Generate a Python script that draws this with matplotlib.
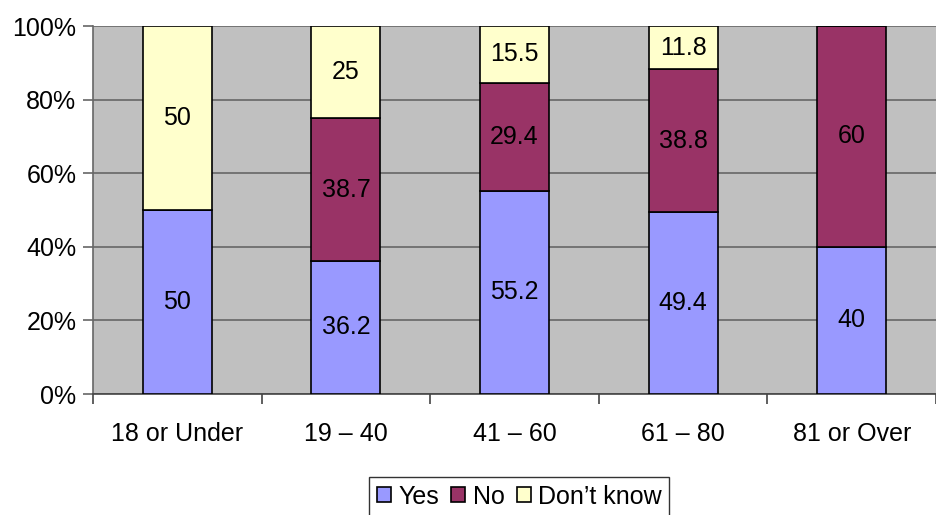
import matplotlib.pyplot as plt
import numpy as np

plt.rcParams['font.family'] = ['Liberation Sans', 'DejaVu Sans']

categories = ['18 or Under', '19 \u2013 40', '41 \u2013 60', '61 \u2013 80', '81 or Over']
yes = [50, 36.2, 55.2, 49.4, 40]
no = [0, 38.7, 29.4, 38.8, 60]
dont_know = [50, 25, 15.5, 11.8, 0]
series_names = ['Yes', 'No', 'Don\u2019t know']
colors = ['#9999FF', '#993366', '#FFFFCC']

fig = plt.figure(figsize=(9.36, 5.15), dpi=100)
ax = fig.add_axes([93 / 936, 1 - 394 / 515, 1 - 93 / 936, (394 - 26) / 515])
ax.set_facecolor('#C0C0C0')

x = np.arange(len(categories))
bottom = np.zeros(len(categories))
handles = []
for vals, name, col in zip([yes, no, dont_know], series_names, colors):
    vals = np.array(vals)
    bars = ax.bar(x, vals, 0.41, bottom=bottom, color=col, edgecolor='black',
                  linewidth=1.2, label=name, zorder=3)
    handles.append(bars)
    for xi, v, b in zip(x, vals, bottom):
        if v > 0:
            ax.text(xi, b + v / 2, f'{v:g}', ha='center', va='center',
                    fontsize=18, zorder=4)
    bottom += vals

ax.set_xlim(-0.5, len(categories) - 0.5)
ax.set_ylim(0, 100)
ax.set_yticks(np.arange(0, 101, 20))
ax.set_yticklabels([f'{t}%' for t in range(0, 101, 20)], fontsize=18)
ax.yaxis.grid(True, color='#666666', linewidth=1.2, zorder=0)
ax.set_axisbelow(True)

ax.set_xticks(x)
ax.set_xticklabels(categories, fontsize=18)
ax.tick_params(axis='x', which='major', length=0, pad=20)
ax.set_xticks(np.arange(-0.5, len(categories), 1), minor=True)
ax.tick_params(axis='x', which='minor', length=7, color='#444444', width=1.2)
ax.tick_params(axis='y', length=7, color='#666666', width=1.2, pad=5)

for s in ['top', 'right']:
    ax.spines[s].set_visible(False)
ax.spines['left'].set_color('#666666')
ax.spines['left'].set_linewidth(1.2)
ax.spines['bottom'].set_color('#444444')
ax.spines['bottom'].set_linewidth(1.2)

leg = fig.legend(handles=handles, labels=series_names, loc='upper center',
                 bbox_to_anchor=(0.555, 1 - 477 / 515), ncol=3, fontsize=18,
                 frameon=True, fancybox=False, edgecolor='black',
                 handlelength=0.55, handleheight=0.55, handletextpad=0.3,
                 columnspacing=0.5, borderpad=0.3, borderaxespad=0)
leg.get_frame().set_linewidth(1.0)

fig.savefig('out.png', dpi=100)
